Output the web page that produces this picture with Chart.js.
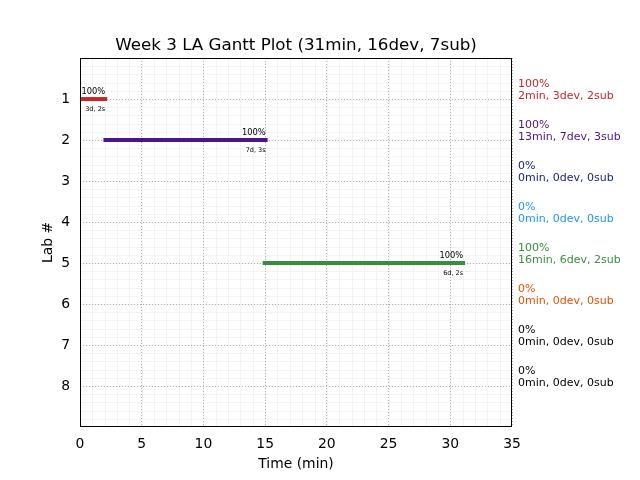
<!DOCTYPE html>
<html>
<head>
<meta charset="utf-8">
<script src="https://cdn.jsdelivr.net/npm/chart.js@4/dist/chart.umd.min.js"></script>
<style>
  html, body { margin: 0; padding: 0; background: #fff; }
  #gantt { display: block; width: 640px; height: 480px; }
</style>
</head>
<body>
<canvas id="gantt" width="640" height="480"></canvas>
<script>
// lab data
const labs = [1, 2, 3, 4, 5, 6, 7, 8];
const startMin = [0, 1.9, null, null, 14.8, null, null, null];
const endMin = [2.2, 15.2, null, null, 31.2, null, null, null];
const donePct = [100, 100, 0, 0, 100, 0, 0, 0];
const labMins = [2, 13, 0, 0, 16, 0, 0, 0];
const labDevs = [3, 7, 0, 0, 6, 0, 0, 0];
const labSubs = [2, 3, 0, 0, 2, 0, 0, 0];
const labColors = ['#c62828', '#4a148c', '#1a237e', '#2196f3', '#388e3c', '#e65100', '#000000', '#000000'];
const xTicks = [0, 5, 10, 15, 20, 25, 30, 35];

const FONT = "'DejaVu Sans', sans-serif";

const datasets = [];
labs.forEach((lab, i) => {
  if (startMin[i] === null) return;
  datasets.push({
    label: 'Lab ' + lab,
    data: [{ x: startMin[i], y: lab }, { x: endMin[i], y: lab }],
    borderColor: labColors[i],
    backgroundColor: labColors[i],
    borderWidth: 4,
    borderCapStyle: 'butt',
    pointRadius: 0,
    showLine: true
  });
});

const ganttExtras = {
  id: 'ganttExtras',
  beforeDraw(chart) {
    // faint minor grid
    const { ctx, chartArea: a, scales: { x, y } } = chart;
    ctx.save();
    ctx.strokeStyle = '#f3f3f3';
    ctx.lineWidth = 1;
    ctx.beginPath();
    for (let v = 1; v < 35; v++) {
      const px = Math.round(x.getPixelForValue(v)) + 0.5;
      ctx.moveTo(px, a.top); ctx.lineTo(px, a.bottom);
    }
    for (let k = 1; k < 45; k++) {
      const py = Math.round(y.getPixelForValue(k * 0.2)) + 0.5;
      ctx.moveTo(a.left, py); ctx.lineTo(a.right, py);
    }
    ctx.stroke();
    ctx.restore();
  },
  afterDraw(chart) {
    const { ctx, chartArea: a, scales: { x, y } } = chart;
    ctx.save();
    // frame
    ctx.strokeStyle = '#000';
    ctx.lineWidth = 1;
    ctx.strokeRect(Math.round(a.left) + 0.5, Math.round(a.top) + 0.5,
      Math.round(a.right - a.left) - 1, Math.round(a.bottom - a.top) - 1);

    // bar end annotations
    ctx.fillStyle = '#000';
    ctx.textAlign = 'right';
    ctx.textBaseline = 'middle';
    labs.forEach((lab, i) => {
      if (startMin[i] === null) return;
      const ex = x.getPixelForValue(endMin[i]) - 2;
      const ly = y.getPixelForValue(lab);
      ctx.font = '8.3px ' + FONT;
      ctx.fillText(donePct[i] + '%', ex, ly - 7);
      ctx.font = '6.5px ' + FONT;
      ctx.fillText(labDevs[i] + 'd, ' + labSubs[i] + 's', ex, ly + 10);
    });

    // right side summaries
    ctx.textAlign = 'left';
    ctx.font = '11px ' + FONT;
    labs.forEach((lab, i) => {
      const ly = y.getPixelForValue(lab);
      ctx.fillStyle = labColors[i];
      ctx.fillText(donePct[i] + '%', a.right + 6, ly - 15);
      ctx.fillText(labMins[i] + 'min, ' + labDevs[i] + 'dev, ' + labSubs[i] + 'sub', a.right + 6, ly - 2.5);
    });
    ctx.restore();
  }
};

const ctx = document.getElementById('gantt').getContext('2d');
new Chart(ctx, {
  type: 'scatter',
  data: { datasets },
  options: {
    responsive: false,
    animation: false,
    devicePixelRatio: 1,
    layout: { padding: { left: 0, right: 128, top: 0, bottom: 0 } },
    plugins: {
      legend: { display: false },
      tooltip: { enabled: false },
      title: {
        display: true,
        fullSize: false,
        text: 'Week 3 LA Gantt Plot (31min, 16dev, 7sub)',
        color: '#000',
        font: { family: FONT, size: 16.7, weight: 'normal' },
        padding: { top: 36, bottom: 2 }
      }
    },
    scales: {
      x: {
        type: 'linear',
        min: 0,
        max: 35,
        afterBuildTicks: s => { s.ticks = xTicks.map(v => ({ value: v })); },
        afterFit: s => { s.height = 53; },
        ticks: { color: '#000', padding: 9, autoSkip: false, maxRotation: 0, font: { family: FONT, size: 13.9 } },
        grid: { color: '#b0b0b0', drawTicks: false, lineWidth: 1 },
        border: { display: false, dash: [1, 2] },
        title: {
          display: true,
          text: 'Time (min)',
          color: '#000',
          font: { family: FONT, size: 13.9 },
          padding: { top: 0, bottom: 7 }
        }
      },
      y: {
        type: 'linear',
        reverse: true,
        min: 0,
        max: 9,
        afterBuildTicks: s => { s.ticks = labs.map(v => ({ value: v })); },
        afterFit: s => { s.width = 80; },
        ticks: { color: '#000', padding: 10, autoSkip: false, font: { family: FONT, size: 13.9 } },
        grid: { color: '#b0b0b0', drawTicks: false, lineWidth: 1 },
        border: { display: false, dash: [1, 2] },
        title: {
          display: true,
          text: 'Lab #',
          color: '#000',
          font: { family: FONT, size: 13.9 },
          padding: { top: 40, bottom: 0 }
        }
      }
    }
  },
  plugins: [ganttExtras]
});
</script>
</body>
</html>
